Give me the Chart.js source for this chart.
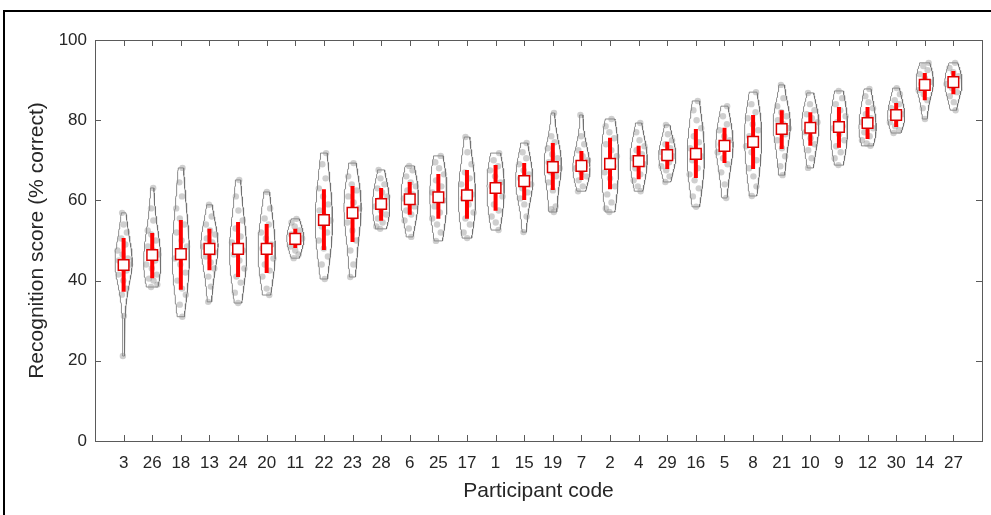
<!DOCTYPE html>
<html>
<head>
<meta charset="utf-8">
<script src="https://cdn.jsdelivr.net/npm/chart.js@4.4.1/dist/chart.umd.min.js"></script>
<style>
  html, body { margin: 0; padding: 0; background: #fff; }
  #wrap { position: relative; width: 991px; height: 515px; }
</style>
</head>
<body>
<div id="wrap"><canvas id="violin" width="991" height="515"></canvas></div>
<script>
// participants, ordered by median score
const participants = [3, 26, 18, 13, 24, 20, 11, 22, 23, 28, 6, 25, 17, 1, 15,
  19, 7, 2, 4, 29, 16, 5, 8, 21, 10, 9, 12, 30, 14, 27];

const medians = [43.9, 46.4, 46.6, 47.9, 47.9, 47.9, 50.4, 55.1, 56.9, 59.1,
  60.3, 60.8, 61.3, 63.1, 64.8, 68.3, 68.6, 69.1, 69.8, 71.3,
  71.6, 73.6, 74.6, 77.8, 78.1, 78.3, 79.3, 81.3, 88.8, 89.5];

const lowerQuartiles = [37.2, 40.6, 37.7, 42.6, 40.9, 41.9, 48.1, 47.6, 49.6, 54.9,
  56.4, 55.4, 55.4, 57.4, 60.1, 62.6, 65.1, 62.8, 65.3, 67.8,
  65.6, 69.3, 67.8, 72.8, 73.6, 73.1, 75.3, 78.3, 85.0, 86.5];

const upperQuartiles = [50.6, 51.9, 55.1, 52.9, 54.6, 54.1, 52.9, 62.8, 63.6, 63.1,
  64.6, 66.6, 67.6, 68.8, 69.3, 74.3, 72.3, 75.6, 73.6, 74.6,
  77.8, 78.1, 81.3, 82.5, 82.0, 83.3, 83.3, 84.3, 91.8, 92.3];

// individual block scores per participant (% correct)
const scores = [
  [21.2, 31.2, 36.5, 38, 40, 41.5, 42.5, 43.5, 44, 44.5, 45, 45.5, 46.5, 47.5, 49, 50.5, 52, 54, 56.9],
  [38.4, 39, 40, 40.5, 41.5, 43, 44, 45, 46, 46.5, 47.5, 48.5, 50, 51.5, 52.5, 55, 58, 63.1],
  [31, 34, 36.5, 38, 40, 42, 44, 45.5, 46.5, 47, 48.5, 50, 52, 54, 55.5, 58, 61, 64.5, 68.1],
  [34.7, 38.5, 41, 43, 44.5, 46, 47, 48, 48.5, 49.5, 50.5, 51.5, 52.5, 54, 56, 58.9],
  [34.4, 37, 39.5, 41, 43, 45, 46.5, 47.5, 48.5, 49.5, 51, 53, 55, 57.5, 61, 65.1],
  [36.4, 38, 41, 42.5, 44, 45.5, 47, 48, 49, 50.5, 52, 54, 55.5, 58, 62.1],
  [45.6, 46.5, 47.5, 48.5, 49.5, 50, 50.5, 51, 51.5, 52.5, 53.5, 54.5, 55.4],
  [40.4, 44, 46, 48, 50, 52, 53.5, 55, 56, 57.5, 59, 61, 63, 65.5, 69, 71.8],
  [40.9, 44, 47.5, 50, 52.5, 54.5, 56, 57, 58, 59.5, 61, 62.5, 64, 66, 69.3],
  [52.9, 53.5, 54.5, 55.5, 56.5, 57.5, 58.5, 59, 60, 61, 62, 63, 64, 65.5, 67.6],
  [50.9, 53, 55, 56.5, 57.5, 58.5, 59.5, 60.5, 61.5, 62.5, 63.5, 64.5, 66, 67.5, 68.6],
  [49.9, 52, 54, 55.5, 57, 58.5, 60, 61, 62, 63.5, 65, 66.5, 68, 69.5, 71.1],
  [50.6, 52, 54, 55.5, 57, 59, 60.5, 61.5, 62.5, 64, 65.5, 67, 69, 72, 75.8],
  [52.6, 54.5, 56, 57.5, 59, 61, 62.5, 63.5, 64.5, 66, 67.5, 68.5, 70, 71.8],
  [52.1, 56, 59, 60.5, 62, 63, 64, 65, 65.5, 66.5, 67.5, 69, 70.5, 72, 74.3],
  [57.1, 57.8, 58.5, 62.5, 64.5, 66, 67, 68, 68.5, 69.5, 70.5, 71.5, 73, 74.5, 76, 81.8],
  [62.3, 63.5, 65, 66, 67, 68, 68.5, 69, 70, 71, 72.5, 74, 76, 81.3],
  [57.1, 58, 59.5, 61.5, 63.5, 65.5, 67, 68.5, 69.5, 71, 72.5, 74, 75.5, 77, 78.5, 80.3],
  [62.3, 63.5, 65, 66.5, 68, 69, 70, 70.5, 71.5, 72.5, 73.5, 75, 77, 79.3],
  [64.6, 66, 67.5, 68.5, 69.5, 70.5, 71, 71.5, 72, 73, 74, 75, 76.5, 78.8],
  [58.4, 61, 63, 65, 66.5, 68, 70, 71, 72, 73, 74.5, 76, 78, 80, 82.5, 84.8],
  [60.6, 64, 67, 69, 70.5, 72, 73, 74, 75, 76, 77.5, 79, 81, 83.5],
  [61.1, 63.5, 66, 68, 70, 72, 73.5, 75, 76, 77.5, 79, 80.5, 82, 84, 87],
  [66.3, 68.5, 71, 73, 75, 76.5, 77.5, 78, 79, 80, 81, 82, 83.5, 85.5, 88.8],
  [68.1, 70.5, 72.5, 74, 75.5, 77, 78, 78.5, 79.5, 80.5, 81.5, 82.5, 84, 86.8],
  [68.8, 70.5, 72, 73.5, 75, 76.5, 78, 78.5, 79.5, 81, 82.5, 84, 85.5, 87.3],
  [73.6, 74.2, 75, 76, 77, 78, 79, 79.5, 80.5, 81.5, 83, 84.5, 86, 87.8],
  [76.8, 77.5, 78.5, 79.5, 80.5, 81, 81.5, 82, 83, 84, 85, 86.5, 88],
  [80.3, 83, 85, 86.5, 87.5, 88.5, 89, 89.5, 90.5, 91.5, 92.5, 93.5, 94.3],
  [82.5, 84.5, 86, 87, 88, 89, 89.5, 90, 91, 92, 93, 94.3]
];

const yTicks = [0, 20, 40, 60, 80, 100];

const HALF_WIDTH = 0.3;   // widest point of each violin, in category units
const FONT = "'Liberation Sans', Arial, Helvetica, sans-serif";
const TEXT = '#262626';

function median(arr) {
  const s = [...arr].sort((a, b) => a - b);
  const m = Math.floor(s.length / 2);
  return s.length % 2 ? s[m] : (s[m - 1] + s[m]) / 2;
}

// gaussian kernel density, bandwidth from the median absolute deviation
function makeDensity(values) {
  const n = values.length;
  const med = median(values);
  const sig = median(values.map(v => Math.abs(v - med))) / 0.6745;
  const bw = sig * Math.pow(4 / (3 * n), 0.2);
  return y => values.reduce((s, v) => s + Math.exp(-0.5 * ((y - v) / bw) ** 2), 0);
}

const violinSets = [];
const dots = [];
const boxLine = [];
const medianDots = [];

scores.forEach((vals, i) => {
  const pos = i + 1;
  const dens = makeDensity(vals);
  const lo = Math.min(...vals), hi = Math.max(...vals);
  const steps = 80;
  const grid = [];
  for (let j = 0; j <= steps; j++) grid.push(lo + (hi - lo) * j / steps);
  const d = grid.map(dens);
  const dMax = Math.max(...d);
  const w = d.map(v => v / dMax * HALF_WIDTH);

  const outline = grid.map((y, j) => ({ x: pos - w[j], y }));
  for (let j = steps; j >= 0; j--) outline.push({ x: pos + w[j], y: grid[j] });
  outline.push(outline[0]);

  violinSets.push({
    data: outline,
    showLine: true,
    borderColor: '#6e6e6e',
    borderWidth: 0.8,
    pointRadius: 0,
    fill: false,
    order: 3
  });

  // spread the dots sideways within the violin
  vals.forEach((v, k) => {
    const frac = (k * 0.618034 + i * 0.377) % 1;
    const spread = dens(v) / dMax * HALF_WIDTH * 0.85;
    dots.push({ x: pos + (2 * frac - 1) * spread, y: v });
  });

  boxLine.push({ x: pos, y: lowerQuartiles[i] }, { x: pos, y: upperQuartiles[i] }, { x: pos, y: null });
  medianDots.push({ x: pos, y: medians[i] });
});

// box, inward tick marks and the outer frame line
const frame = {
  id: 'frame',
  beforeDraw(chart) {
    const ctx = chart.ctx;
    ctx.save();
    ctx.fillStyle = '#000';
    ctx.fillRect(3, 10, 2, 505);
    ctx.fillRect(3, 10, 988, 2);
    ctx.restore();
  },
  afterDraw(chart) {
    const { ctx, chartArea: a, scales: { x, y } } = chart;
    const len = 6;
    ctx.save();
    ctx.strokeStyle = '#5a5a5a';
    ctx.lineWidth = 1;
    ctx.strokeRect(a.left + 0.5, a.top + 0.5, a.right - a.left, a.bottom - a.top);
    ctx.beginPath();
    participants.forEach((p, i) => {
      const px = Math.round(x.getPixelForValue(i + 1)) + 0.5;
      ctx.moveTo(px, a.bottom); ctx.lineTo(px, a.bottom - len);
      ctx.moveTo(px, a.top); ctx.lineTo(px, a.top + len);
    });
    yTicks.forEach(t => {
      const py = Math.round(y.getPixelForValue(t)) + 0.5;
      ctx.moveTo(a.left, py); ctx.lineTo(a.left + len, py);
      ctx.moveTo(a.right, py); ctx.lineTo(a.right - len, py);
    });
    ctx.stroke();
    ctx.restore();
  }
};

new Chart(document.getElementById('violin'), {
  type: 'scatter',
  data: {
    datasets: [
      ...violinSets,
      {
        data: dots,
        backgroundColor: 'rgba(140,140,140,0.42)',
        borderWidth: 0,
        pointRadius: 3.2,
        order: 2
      },
      {
        data: boxLine,
        showLine: true,
        spanGaps: false,
        borderColor: '#ff0000',
        borderWidth: 4,
        borderCapStyle: 'butt',
        pointRadius: 0,
        order: 1
      },
      {
        data: medianDots,
        pointStyle: 'rect',
        pointRadius: 7.5,
        backgroundColor: '#ffffff',
        borderColor: '#dd0000',
        borderWidth: 1.5,
        order: 0
      }
    ]
  },
  options: {
    responsive: false,
    animation: false,
    devicePixelRatio: 1,
    layout: { padding: { left: 0, top: 40, right: 9, bottom: 0 } },
    plugins: { legend: { display: false }, tooltip: { enabled: false } },
    scales: {
      x: {
        type: 'linear',
        min: 0,
        max: 31,
        afterBuildTicks: scale => { scale.ticks = participants.map((p, i) => ({ value: i + 1 })); },
        afterFit: scale => { scale.height = 74; },
        grid: { display: false, drawTicks: false, tickLength: 0 },
        border: { display: false },
        ticks: {
          autoSkip: false,
          maxRotation: 0,
          padding: 12,
          color: TEXT,
          font: { family: FONT, size: 17 },
          callback: v => participants[v - 1]
        },
        title: {
          display: true,
          text: 'Participant code',
          color: TEXT,
          font: { family: FONT, size: 21 },
          padding: { top: 0, bottom: 11 }
        }
      },
      y: {
        min: 0,
        max: 100,
        afterBuildTicks: scale => { scale.ticks = yTicks.map(v => ({ value: v })); },
        afterFit: scale => { scale.width = 95; },
        grid: { display: false, drawTicks: false, tickLength: 0 },
        border: { display: false },
        ticks: {
          padding: 8,
          color: TEXT,
          font: { family: FONT, size: 17 }
        },
        title: {
          display: true,
          text: 'Recognition score (% correct)',
          color: TEXT,
          font: { family: FONT, size: 21 },
          padding: { top: 25, bottom: 0 }
        }
      }
    }
  },
  plugins: [frame]
});
</script>
</body>
</html>
